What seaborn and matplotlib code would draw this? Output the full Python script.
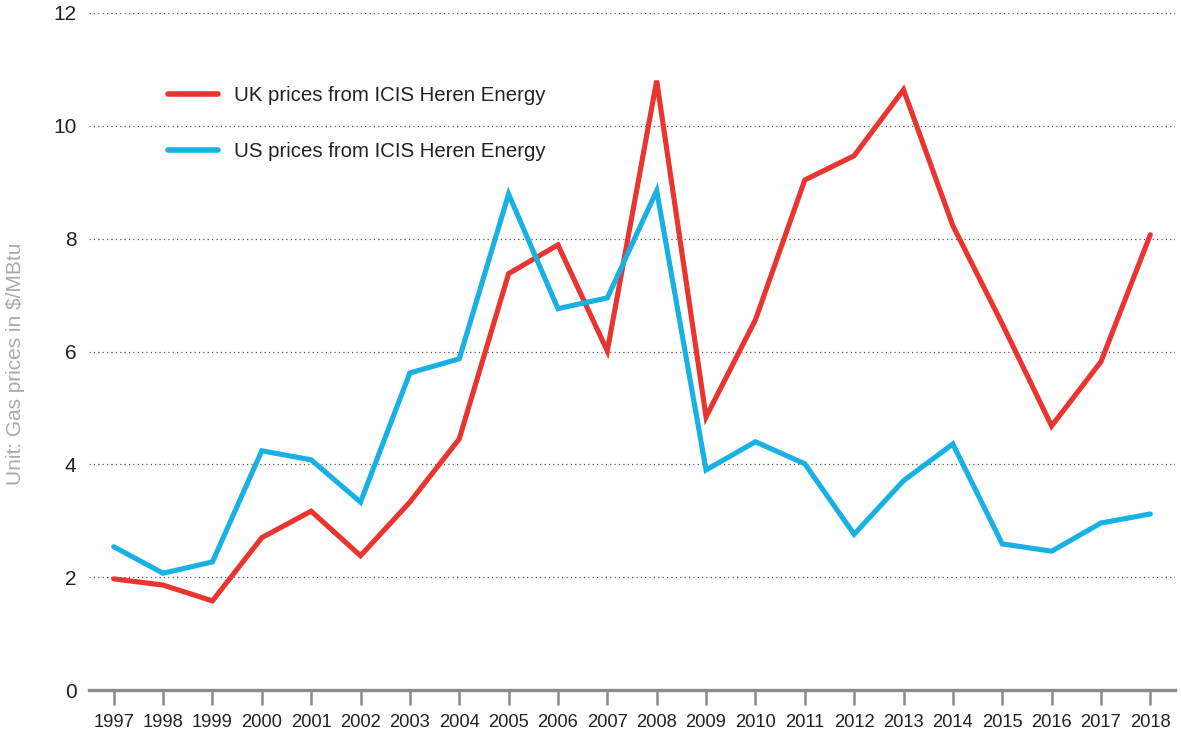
import matplotlib
matplotlib.use("Agg")
import matplotlib.pyplot as plt
import seaborn as sns
import pandas as pd

years = list(range(1997, 2019))
uk_prices = [1.97, 1.86, 1.58, 2.70, 3.17, 2.38, 3.33, 4.45, 7.38, 7.89, 6.01, 10.80,
             4.84, 6.56, 9.04, 9.47, 10.64, 8.23, 6.49, 4.68, 5.82, 8.07]
us_prices = [2.54, 2.07, 2.27, 4.24, 4.08, 3.33, 5.62, 5.87, 8.79, 6.76, 6.95, 8.85,
             3.90, 4.40, 4.01, 2.76, 3.71, 4.36, 2.59, 2.46, 2.96, 3.12]
series_names = ["UK prices from ICIS Heren Energy", "US prices from ICIS Heren Energy"]
y_ticks = [0, 2, 4, 6, 8, 10, 12]

df = pd.DataFrame({
    "year": years * 2,
    "price": uk_prices + us_prices,
    "series": [series_names[0]] * len(years) + [series_names[1]] * len(years),
})

sns.set_style("white")
plt.rcParams["font.family"] = ["Liberation Sans", "DejaVu Sans"]

fig = plt.figure(figsize=(11.81, 7.33), dpi=100)
ax = fig.add_axes([89 / 1181, 43 / 733, (1175 - 89) / 1181, (690 - 13) / 733])

palette = {series_names[0]: "#E8352F", series_names[1]: "#19B0E3"}
sns.lineplot(data=df, x="year", y="price", hue="series", palette=palette,
             linewidth=3.7, ax=ax, solid_capstyle="round", solid_joinstyle="miter")

ax.set_xlim(1996.5, 2018.5)
ax.set_ylim(0, 12)
ax.set_yticks(y_ticks)
ax.set_yticklabels([str(t) for t in y_ticks])
ax.set_xticks(years)
ax.set_xticklabels([str(y) for y in years])

for t in y_ticks[1:]:
    ax.axhline(t, color="#555555", linestyle=(0, (1, 2.5)), linewidth=0.9, zorder=0)

for s in ["top", "right", "left"]:
    ax.spines[s].set_visible(False)
ax.spines["bottom"].set_color("#8a8a8c")
ax.spines["bottom"].set_linewidth(2.4)

ax.tick_params(axis="x", length=11, width=1.8, color="#8a8a8c", labelsize=13.2,
               labelcolor="#222222", pad=6, direction="out")
ax.tick_params(axis="y", length=0, labelsize=15, labelcolor="#222222", pad=9)
ax.xaxis.set_ticks_position("bottom")

ax.set_xlabel("")
ax.set_ylabel("Unit: Gas prices in $/MBtu", fontsize=15, color="#aaaaaa")
ax.yaxis.set_label_coords((25 - 89) / 1086, (690 - 364) / 677)

leg = ax.legend(loc="upper left", bbox_to_anchor=(150 / 1181, 1 - 68 / 733),
                bbox_transform=fig.transFigure, frameon=False, fontsize=14.7,
                handlelength=2.45, handletextpad=0.75, labelspacing=1.8, title=None)
for line in leg.get_lines():
    line.set_linewidth(4)
    line.set_solid_capstyle("round")
for txt in leg.get_texts():
    txt.set_color("#222222")

fig.savefig("out.png", dpi=100)
